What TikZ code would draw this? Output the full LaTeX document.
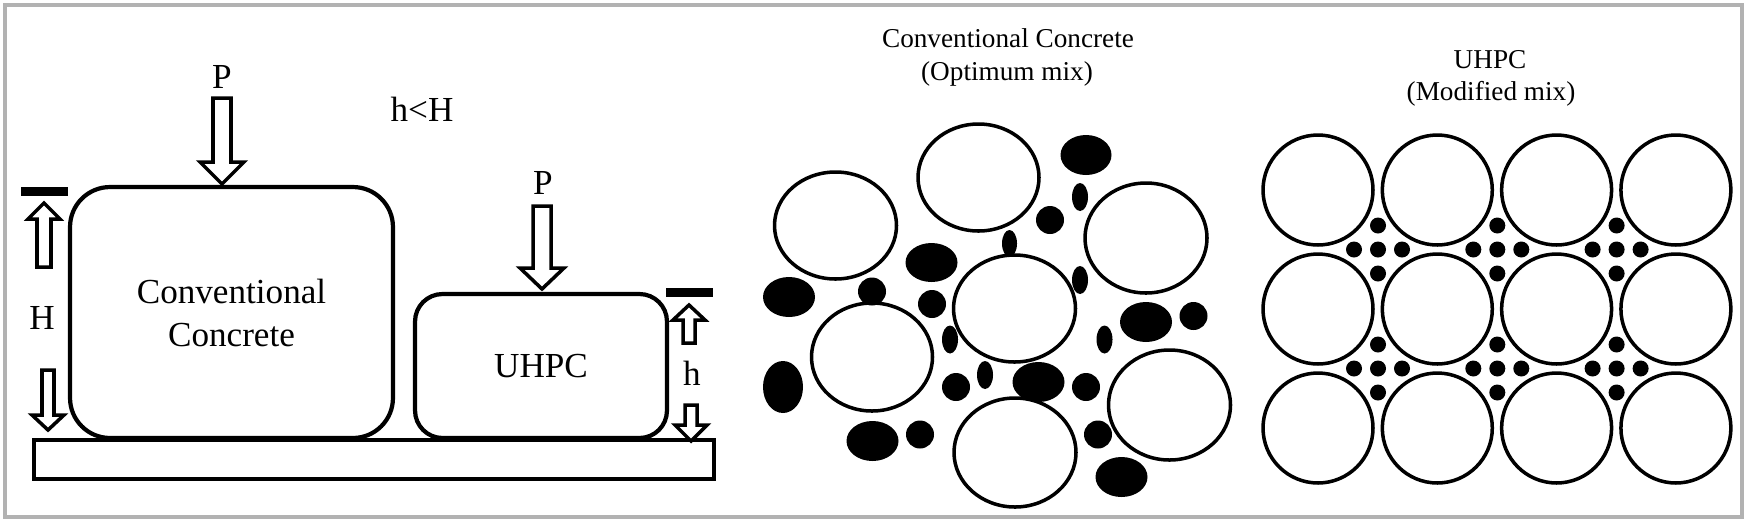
\documentclass[tikz,border=0pt]{standalone}
\usepackage{fontspec}
\setmainfont{Liberation Serif}
\definecolor{framegray}{gray}{0.7}
% x, tail y, head base y, tip y, shaft half width, head half width
\newcommand{\blockarrow}[6]{%
  \draw [blockarr] (#1-#5, #2) -- (#1-#5, #3) -- (#1-#6, #3) -- (#1, #4)
    -- (#1+#6, #3) -- (#1+#5, #3) -- (#1+#5, #2) -- cycle;}

\begin{document}
\begin{tikzpicture}[x = 0.02cm, y = -0.02cm,
                    specimen/.style = {draw, line width = 2.4pt, align = center,
                                       font = \fontsize{20}{24.5}\selectfont},
                    lbl/.style = {inner sep = 0pt, font = \fontsize{20}{24}\selectfont},
                    mixtitle/.style = {inner sep = 0pt, anchor = base,
                                       font = \fontsize{15.5}{19}\selectfont},
                    blockarr/.style = {draw, line width = 2pt, fill = white},
                    stopbar/.style = {line width = 5pt},
                    agg/.style = {draw, line width = 2pt},
                    paste/.style = {fill = black}]
      \useasboundingbox (0, 0) rectangle (1750, 522);
      \draw [framegray, line width = 2.3pt] (5, 5) rectangle (1742, 517);

      \node [draw, line width = 2pt, inner sep = 0pt, minimum width = 13.6cm,
             minimum height = 0.78cm] (base) at (374, 459.5) {};
      \node [specimen, rounded corners = 0.8cm, minimum width = 6.46cm,
             minimum height = 5.02cm] (conv) at (231.5, 312.5) {Conventional\\Concrete};
      \node [specimen, rounded corners = 0.55cm, minimum width = 5.04cm,
             minimum height = 2.88cm] (uhpc) at (541, 366) {UHPC};

      \node [lbl] (Pconv) at (222, 77) {P};
      \node [lbl] (Puhpc) at (543, 183) {P};
      \node [lbl] (cmp) at (422, 109) {h<H};
      \node [lbl] (Hlbl) at (42, 318) {H};
      \node [lbl] (hlbl) at (692, 373) {h};

      \draw [stopbar] (21, 191.5) -- (68, 191.5);
      \draw [stopbar] (666, 292.5) -- (713, 292.5);

      \blockarrow{222}{98}{162}{184}{9}{22}
      \blockarrow{542}{206}{268}{289}{9}{22}
      \blockarrow{44}{267}{219}{203}{7}{16}
      \blockarrow{48}{370}{415}{430}{6}{16}
      \blockarrow{689}{343}{320}{305}{6}{16}
      \blockarrow{691}{405}{425}{441}{6}{16}

      \node [mixtitle] (cctitle) at (1008, 47) {Conventional Concrete};
      \node [mixtitle] (ccmix) at (1007, 80) {(Optimum mix)};
      \node [mixtitle] (utitle) at (1490, 68) {UHPC};
      \node [mixtitle] (umix) at (1491, 100) {(Modified mix)};

      \foreach \x/\y/\a/\b in {978.5/177.5/60.5/53.5, 835.5/225.5/61/53.5,
                               1146/238/61/55, 1014.5/308.5/61/53.5, 872/357/60.5/54,
                               1169.5/405/61/55, 1015/452.5/61/54.5}
        \draw [agg] (\x, \y) ellipse [x radius = \a*0.02cm, y radius = \b*0.02cm];
      \foreach \x/\y/\a/\b in {1086/155/25.5/20, 1080/197/8/14, 1050/220/14/14,
                               1009.5/243.5/7.5/13.5, 931.5/262.5/26/19.5, 1080/280/8/14,
                               789/297/26/20, 872/291.5/14/14, 932/304/14/14,
                               1146/322/26/20, 1193.5/316/14/14, 950/339.5/8/14,
                               1104.5/339.5/8/14, 783/387/20/26, 956/387/14/14,
                               985/375/8/14, 1038.5/382/26/20, 1086/387/14/14,
                               872.5/441/26/20, 920/434.5/14/14, 1098/434.5/14/14,
                               1121.5/477/26/20}
        \fill [paste] (\x, \y) ellipse [x radius = \a*0.02cm, y radius = \b*0.02cm];

      \foreach \i in {0,...,3}
        \foreach \j in {0,1,2}
          \draw [agg] (1318 + 119.3*\i, 190 + 119*\j) circle [radius = 1.1cm];
      \foreach \cx in {1378, 1497.3, 1616.6}
        \foreach \cy in {249.5, 368.5}
          \foreach \dx/\dy in {0/0, -24/0, 24/0, 0/-24, 0/24}
            \fill [paste] (\cx + \dx, \cy + \dy) circle [radius = 0.16cm];
    \end{tikzpicture}
\end{document}
